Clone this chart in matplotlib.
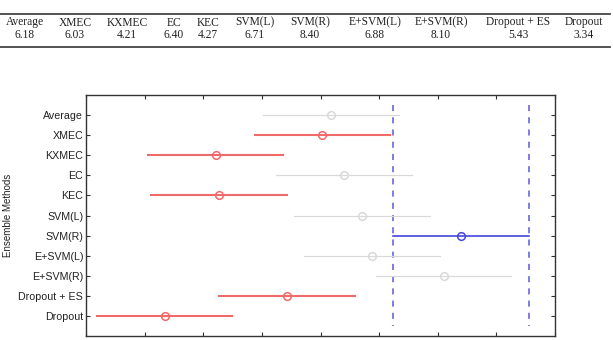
#!/usr/bin/env python3

"""
Multiple comparison of ensemble methods (multcompare-style plot) with a means table.
"""

import matplotlib
matplotlib.use("Agg")
import matplotlib.pyplot as plt
from matplotlib.lines import Line2D

methods = ["Average", "XMEC", "KXMEC", "EC", "KEC", "SVM(L)", "SVM(R)",
           "E+SVM(L)", "E+SVM(R)", "Dropout + ES", "Dropout"]
means = [6.18, 6.03, 4.21, 6.40, 4.27, 6.71, 8.40, 6.88, 8.10, 5.43, 3.34]
half_width = 1.155
selected = "SVM(R)"

# table column centres (figure pixels) and rows
col_x = [25, 75, 127, 174, 208, 255, 310, 375, 441, 518, 584]

W, H = 613, 340
fig = plt.figure(figsize=(W / 100, H / 100), dpi=100)

# table on top
serif = ["Liberation Serif", "DejaVu Serif"]
for x, name, m in zip(col_x, methods, means):
    fig.text(x / W, 1 - 22.5 / H, name, ha="center", va="center",
             family=serif, fontsize=8.3, color="#222222")
    fig.text(x / W, 1 - 35.5 / H, f"{m:.2f}", ha="center", va="center",
             family=serif, fontsize=8.3, color="#222222")
for yy in (14, 46.5):
    fig.add_artist(Line2D([0, 610 / W], [1 - yy / H, 1 - yy / H],
                          transform=fig.transFigure, color="#444444", lw=1.3))

# comparison plot
ax = fig.add_axes([86 / W, 1 - 336 / H, (555 - 86) / W, (336 - 95) / H])

sel = methods.index(selected)
lo_s, hi_s = means[sel] - half_width, means[sel] + half_width
for i, (name, m) in enumerate(zip(methods, means)):
    lo, hi = m - half_width, m + half_width
    y = i + 1
    if i == sel:
        c, lw = "#4646dc", 1.2
    elif hi < lo_s or lo > hi_s:
        c, lw = "#f06a6a", 1.5
    else:
        c, lw = "#d9d9d9", 0.9
    ax.plot([lo, hi], [y, y], color=c, lw=lw, zorder=2)
    ax.plot([m], [y], marker="o", ms=5.5, mfc="none", mec=c, mew=1.1, zorder=3)

for xv in (lo_s, hi_s):
    ax.plot([xv, xv], [0.5, len(methods) + 0.5], color="#5a5ad8", lw=1.1,
            ls=(0, (4, 4)), zorder=1)

ax.set_xlim(2, 10)
ax.set_ylim(len(methods) + 1, 0)
ax.set_xticks(range(2, 11))
ax.set_xticklabels([])
ax.set_yticks(range(1, len(methods) + 1))
ax.set_yticklabels(methods, family=["Liberation Sans", "DejaVu Sans"],
                   fontsize=7.7, color="#222222")
ax.tick_params(direction="in", length=3, width=0.8, top=True, right=True,
               color="#333333", pad=2)
for s in ax.spines.values():
    s.set_color("#333333")
    s.set_linewidth(1.0)

fig.text(8 / W, 1 - 215 / H, "Ensemble Methods", rotation=90, ha="center",
         va="center", family=["Liberation Sans", "DejaVu Sans"], fontsize=7,
         color="#222222")

fig.savefig("out.png", dpi=100)
